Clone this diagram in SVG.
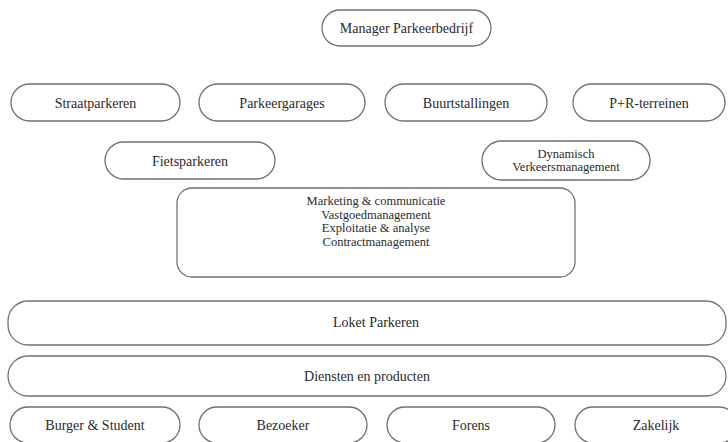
<svg xmlns="http://www.w3.org/2000/svg" width="728" height="442" viewBox="0 0 728 442">
<style>
.b{fill:#fff;stroke:#707070;stroke-width:1.3}
.t{font-family:"Liberation Serif","Times New Roman",serif;font-size:14px;fill:#2a2a2a;text-anchor:middle}
.s{font-size:12.5px}
</style>
<rect width="728" height="442" fill="#fff"/>
<g id="connectors"></g>
<g id="manager"><rect class="b" x="322" y="10" width="169" height="36" rx="18"/><text class="t" x="406.5" y="33">Manager Parkeerbedrijf</text></g>
<g id="straatparkeren"><rect class="b" x="11" y="84" width="169" height="37" rx="18.5"/><text class="t" x="95.5" y="108">Straatparkeren</text></g>
<g id="parkeergarages"><rect class="b" x="199" y="84" width="166" height="37" rx="18.5"/><text class="t" x="282" y="108">Parkeergarages</text></g>
<g id="buurtstallingen"><rect class="b" x="385" y="84" width="162" height="37" rx="18.5"/><text class="t" x="466" y="108">Buurtstallingen</text></g>
<g id="pr"><rect class="b" x="573" y="84" width="152" height="37" rx="18.5"/><text class="t" x="649" y="108">P+R-terreinen</text></g>
<g id="fietsparkeren"><rect class="b" x="105" y="142" width="170" height="37" rx="18.5"/><text class="t" x="190" y="166">Fietsparkeren</text></g>
<g id="dynamisch"><rect class="b" x="482" y="141" width="168" height="39" rx="19.5"/><text class="t s" x="566" y="157.5">Dynamisch</text><text class="t s" x="566" y="171">Verkeersmanagement</text></g>
<g id="taken"><rect class="b" x="177" y="188" width="398" height="89" rx="15"/>
<text class="t s" x="376" y="205">Marketing &amp; communicatie</text>
<text class="t s" x="376" y="218.5">Vastgoedmanagement</text>
<text class="t s" x="376" y="232">Exploitatie &amp; analyse</text>
<text class="t s" x="376" y="245.5">Contractmanagement</text></g>
<g id="loket"><rect class="b" x="8" y="301" width="718" height="44" rx="20"/><text class="t" x="376" y="327">Loket Parkeren</text></g>
<g id="diensten"><rect class="b" x="8" y="356" width="718" height="40" rx="20"/><text class="t" x="367" y="381">Diensten en producten</text></g>
<g id="burger"><rect class="b" x="10" y="407" width="170" height="36" rx="18"/><text class="t" x="95" y="430">Burger &amp; Student</text></g>
<g id="bezoeker"><rect class="b" x="199" y="407" width="168" height="36" rx="18"/><text class="t" x="283" y="430">Bezoeker</text></g>
<g id="forens"><rect class="b" x="387" y="407" width="168" height="36" rx="18"/><text class="t" x="471" y="430">Forens</text></g>
<g id="zakelijk"><rect class="b" x="575" y="407" width="162" height="36" rx="18"/><text class="t" x="656" y="430">Zakelijk</text></g>
</svg>
